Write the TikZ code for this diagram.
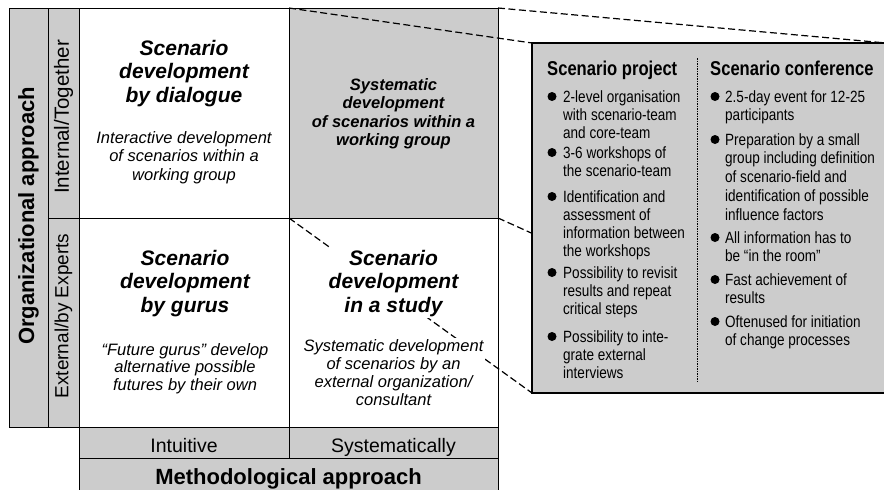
\documentclass[tikz,border=0pt]{standalone}
\usepackage{fontspec}
\setmainfont{Liberation Sans}
\newfontfamily\narrowsans[FakeStretch=0.83]{Liberation Sans}
\begin{document}
\begin{tikzpicture}[x=1pt,y=-1pt,
  shade/.style={fill=black!20},
  grid/.style={draw=black, line width=0.9pt},
  zoomline/.style={dash pattern=on 7pt off 3.5pt, line width=1.2pt},
  celltitle/.style={font=\bfseries\itshape\fontsize{21}{23.5}\selectfont, align=center, anchor=base, inner sep=3pt},
  celltext/.style={font=\itshape\fontsize{16.5}{18.5}\selectfont, align=center, anchor=base, inner sep=3pt},
  axislabel/.style={font=\fontsize{19.5}{22}\selectfont, inner sep=0pt},
  axistitle/.style={font=\bfseries\fontsize{22}{24}\selectfont, inner sep=0pt},
  colhead/.style={font=\narrowsans\bfseries\fontsize{20}{22}\selectfont, anchor=base west, inner sep=0pt},
  bullettext/.style={font=\narrowsans\fontsize{16.3}{18.3}\selectfont, align=left, anchor=base west, inner sep=0pt},
  dot/.style={fill=black}
]
\clip (0,0) rectangle (884,490);
\fill[white] (0,0) rectangle (884,490);

% corners of the highlighted cell and of the detail box
\coordinate (cTL) at (289,8);
\coordinate (cTR) at (498,8);
\coordinate (cBL) at (289,218);
\coordinate (cBR) at (498,218);
\coordinate (bTL) at (532,43);
\coordinate (bTR) at (886,43);
\coordinate (bBL) at (532,393);
\coordinate (bBR) at (886,393);

% axis strips
\draw[grid, shade] (9,8) rectangle (48,427);
\draw[grid, shade] (48,8) rectangle (79,218);
\draw[grid, shade] (48,218) rectangle (79,427);
\draw[grid, shade] (79,427) rectangle (289,458);
\draw[grid, shade] (289,427) rectangle (498,458);
\draw[grid, shade] (79,458) rectangle (498,500);

% the four cells
\draw[grid, fill=white] (79,8) rectangle (289,218);
\draw[grid, shade] (cTL) rectangle (cBR);
\draw[grid, fill=white] (79,218) rectangle (289,427);
\draw[grid, fill=white] (cBL) rectangle (498,427);

% projection lines towards the detail box
\draw[zoomline] (cTL) -- (bTL);
\draw[zoomline] (cTR) -- (bTR);
\draw[zoomline] (cBL) -- (bBL);
\draw[zoomline] (cBR) -- (bBR);

% axis labels
\node[axistitle, rotate=90] (orgAxis) at (28.5,216) {Organizational approach};
\node[axislabel, rotate=90, font=\fontsize{20.5}{22}\selectfont] (internal) at (63.5,117) {Internal/Together};
\node[axislabel, rotate=90, font=\fontsize{19}{22}\selectfont] (external) at (63.5,316) {External/by Experts};
\node[axislabel, anchor=base] (intuitive) at (184,452) {Intuitive};
\node[axislabel, anchor=base] (systematically) at (393.5,452) {Systematically};
\node[axistitle, anchor=base] (methAxis) at (288.5,484) {Methodological approach};

% cell contents (multi-line nodes sit on the baseline of their last line)
\node[celltitle] (dialogueT) at (184,102) {Scenario\\development\\by dialogue};
\node[celltext] (dialogueD) at (184,180) {Interactive development\\of scenarios within a\\working group};
\node[celltitle, font=\bfseries\itshape\fontsize{16.5}{18.5}\selectfont] (groupT) at (393.5,145.5)
  {Systematic\\development\\of scenarios within a\\working group};
\node[celltitle] (gurusT) at (185,312) {Scenario\\development\\by gurus};
\node[celltext, font=\itshape\fontsize{16.5}{17.5}\selectfont] (gurusD) at (185,390) {“Future gurus” develop\\alternative possible\\futures by their own};
\node[celltitle, fill=white, inner sep=2pt] (studyT) at (393.5,312) {Scenario\\development\\in a study};
\node[celltext, fill=white, inner sep=2pt, font=\itshape\fontsize{16.5}{17.7}\selectfont] (studyD) at (393.5,405) {Systematic development\\of scenarios by an\\external organization/\\consultant};

% detail box
\draw[line width=2pt, shade] (bTL) rectangle (bBR);
\draw[line width=0.8pt, dash pattern=on 1.5pt off 1pt] (697,58) -- (697,383);

\node[colhead] (projHead) at (547,75) {Scenario project};
\node[colhead] (confHead) at (710,75) {Scenario conference};

% left column
\foreach \y in {102,158,202,278,342} \fill[dot] (552,\y-5.5) circle (4.5);
\node[bullettext] (p1) at (563,138.6) {2-level organisation\\with scenario-team\\and core-team};
\node[bullettext] (p2) at (563,176.3) {3-6 workshops of\\the scenario-team};
\node[bullettext] (p3) at (563,256.9) {Identification and\\assessment of\\information between\\the workshops};
\node[bullettext] (p4) at (563,314.6) {Possibility to revisit\\results and repeat\\critical steps};
\node[bullettext] (p5) at (563,378.6) {Possibility to inte-\\grate external\\interviews};

% right column
\foreach \y in {102,145,243,285,327} \fill[dot] (715,\y-5.5) circle (4.5);
\node[bullettext] (c1) at (725,120.3) {2.5-day event for 12-25\\participants};
\node[bullettext, font=\narrowsans\fontsize{16.3}{18.8}\selectfont] (c2) at (725,220.2) {Preparation by a small\\group including definition\\of scenario-field and\\identification of possible\\influence factors};
\node[bullettext] (c3) at (725,261.3) {All information has to\\be “in the room”};
\node[bullettext] (c4) at (725,303.3) {Fast achievement of\\results};
\node[bullettext] (c5) at (725,345.3) {Oftenused for initiation\\of change processes};
\end{tikzpicture}
\end{document}
